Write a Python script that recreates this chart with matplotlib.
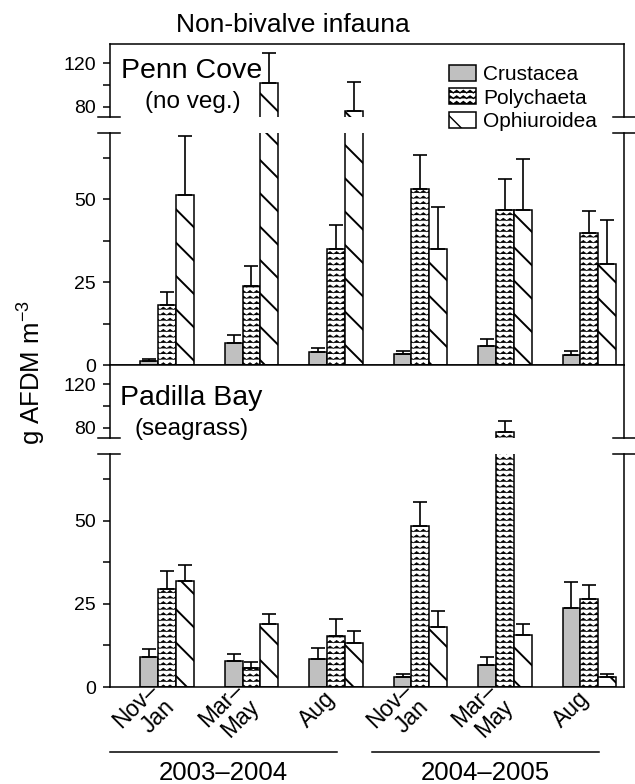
import numpy as np
import matplotlib
matplotlib.use('Agg')
import matplotlib.pyplot as plt
import matplotlib.hatch as mhatch
import matplotlib.transforms as mtransforms
from matplotlib.path import Path
from matplotlib.lines import Line2D

plt.rcParams['font.family'] = ['Liberation Sans', 'DejaVu Sans']
plt.rcParams['mathtext.fontset'] = 'custom'
plt.rcParams['mathtext.rm'] = 'Liberation Sans'
plt.rcParams['mathtext.it'] = 'Liberation Sans:italic'
plt.rcParams['mathtext.bf'] = 'Liberation Sans:bold'
plt.rcParams['hatch.color'] = 'black'

# ---------------- data ----------------
periods = ['Nov–\nJan', 'Mar–\nMay', 'Aug', 'Nov–\nJan', 'Mar–\nMay', 'Aug']
years = ['2003–2004', '2004–2005']
series = ['Crustacea', 'Polychaeta', 'Ophiuroidea']

penn_crust = [1.2, 6.7, 3.8, 3.2, 5.7, 2.9]
penn_crust_err = [0.5, 2.5, 1.4, 0.9, 2.2, 1.2]
penn_poly = [18.1, 23.8, 35.1, 53.0, 46.9, 39.9]
penn_poly_err = [3.8, 6.1, 7.2, 10.5, 9.1, 6.6]
penn_ophi = [51.4, 101.5, 76.6, 34.9, 46.9, 30.6]
penn_ophi_err = [17.6, 27.3, 26.4, 12.8, 15.4, 13.1]

pad_crust = [9.1, 7.7, 8.3, 2.9, 6.5, 23.6]
pad_crust_err = [2.3, 2.2, 3.3, 1.0, 2.5, 8.0]
pad_poly = [29.4, 5.7, 15.3, 48.5, 76.6, 26.3]
pad_poly_err = [5.6, 1.8, 5.2, 7.1, 9.8, 4.4]
pad_ophi = [31.7, 19.0, 13.3, 17.9, 15.5, 3.0]
pad_ophi_err = [4.9, 3.0, 3.5, 5.0, 3.5, 1.0]

panel_names = ['Penn Cove', 'Padilla Bay']
panel_subs = ['(no veg.)', '(seagrass)']


# ---------------- zigzag hatch (replaces 'O' pattern) ----------------
class ZigZagHatch(mhatch.HatchPatternBase):
    def __init__(self, hatch, density):
        self.num_lines = int(hatch.count('O') * density)
        self.n_seg = 30
        self.num_vertices = self.num_lines * (self.n_seg + 1)

    def set_vertices_and_codes(self, vertices, codes):
        if self.num_lines == 0:
            return
        steps, stepsize = np.linspace(0.0, 1.0, self.num_lines, False, retstep=True)
        steps += stepsize / 2.0
        k = self.n_seg + 1
        xs = np.linspace(0.0, 1.0, k)
        amp = stepsize * 0.22
        off = np.where(np.arange(k) % 2 == 0, -amp, amp)
        for i, s in enumerate(steps):
            vertices[i * k:(i + 1) * k, 0] = xs
            vertices[i * k:(i + 1) * k, 1] = s + off
            codes[i * k] = Path.MOVETO
            codes[i * k + 1:(i + 1) * k] = Path.LINETO


mhatch._hatch_types[mhatch._hatch_types.index(mhatch.LargeCircles)] = ZigZagHatch

# ---------------- figure layout ----------------
W_PX, H_PX = 635, 784
fig = plt.figure(figsize=(W_PX / 100, H_PX / 100), dpi=100)


def fy(px):
    return 1 - px / H_PX


L = 110 / W_PX
W = 514 / W_PX
ax1 = fig.add_axes([L, fy(117), W, 73 / H_PX])
ax2 = fig.add_axes([L, fy(365), W, 232 / H_PX])
ax3 = fig.add_axes([L, fy(438), W, 73 / H_PX])
ax4 = fig.add_axes([L, fy(687), W, 233 / H_PX])

x = np.arange(len(periods))
bw = 0.212
XLIM = (-0.675, 5.41)
UP_LIM = (70.9, 137.3)
LO_LIM = (0, 70)
LW = 1.1

styles = [
    dict(color='#c0c0c0', hatch=None, hlw=1.0, hc='black'),
    dict(color='white', hatch='OOO', hlw=0.5, hc='#3a3a3a'),
    dict(color='white', hatch='\\', hlw=1.4, hc='black'),
]

panels = [
    (ax1, ax2, [(penn_crust, penn_crust_err), (penn_poly, penn_poly_err), (penn_ophi, penn_ophi_err)]),
    (ax3, ax4, [(pad_crust, pad_crust_err), (pad_poly, pad_poly_err), (pad_ophi, pad_ophi_err)]),
]

legend_handles = []
for pi, (axu, axl, data) in enumerate(panels):
    for ax in (axu, axl):
        for si, ((vals, errs), st) in enumerate(zip(data, styles)):
            with plt.rc_context({'hatch.linewidth': st['hlw'], 'hatch.color': st['hc']}):
                bars = ax.bar(x + (si - 1) * bw, vals, bw, color=st['color'],
                              edgecolor='black', linewidth=LW, hatch=st['hatch'],
                              zorder=2, label=series[si])
            for b in bars:
                if hasattr(b, 'set_hatch_linewidth'):
                    b.set_hatch_linewidth(st['hlw'])
            ax.errorbar(x + (si - 1) * bw, vals, yerr=[np.zeros(len(vals)), errs],
                        fmt='none', ecolor='black', elinewidth=1.2, capsize=5,
                        capthick=1.2, zorder=3)
            if pi == 0 and ax is axl:
                legend_handles.append(bars)
        ax.set_xlim(*XLIM)
        ax.tick_params(axis='x', length=0, labelbottom=False)
        ax.tick_params(axis='y', which='both', direction='out', length=5,
                       width=1.1, labelsize=14, pad=5, right=False)
        for sp in ax.spines.values():
            sp.set_linewidth(1.1)
    axu.set_ylim(*UP_LIM)
    axu.set_yticks([80, 120])
    axu.set_yticks([100], minor=True)
    axu.spines['bottom'].set_visible(False)
    axl.set_ylim(*LO_LIM)
    axl.set_yticks([0, 25, 50])
    axl.set_yticks([12.5, 37.5, 62.5], minor=True)
    axl.spines['top'].set_visible(False)
    # break marks
    for ax, yy in ((axu, 0), (axl, 1)):
        for x0, x1 in ((-0.023, 0.019), (0.979, 1.021)):
            ax.plot([x0, x1], [yy, yy], transform=ax.transAxes, clip_on=False,
                    color='black', lw=1.1)

# panel labels
fig.text(192 / W_PX, fy(78), panel_names[0], fontsize=20.5, ha='center', va='baseline')
fig.text(193 / W_PX, fy(108), panel_subs[0], fontsize=17.5, ha='center', va='baseline')
fig.text(191 / W_PX, fy(405), panel_names[1], fontsize=20.5, ha='center', va='baseline')
fig.text(191.5 / W_PX, fy(435), panel_subs[1], fontsize=17.5, ha='center', va='baseline')

# title and y label
fig.text(292.5 / W_PX, fy(32), 'Non-bivalve infauna', fontsize=19, ha='center', va='baseline')
fig.text(32 / W_PX, fy(372), 'g AFDM m$^{-3}$', fontsize=18.5, rotation=90,
         ha='center', va='center')

# legend
fig.legend(legend_handles, series, loc='upper left',
           bbox_to_anchor=(449 / W_PX, fy(65)), frameon=False, fontsize=15,
           handlelength=1.3, handleheight=0.8, handletextpad=0.35,
           labelspacing=0.2, borderpad=0, borderaxespad=0)

# x tick labels (rotated)
blend = mtransforms.blended_transform_factory(ax4.transData, ax4.transAxes)
offs = mtransforms.ScaledTranslation(-4 / 100, -8 / 100, fig.dpi_scale_trans)
for xi, lab in zip(x, periods):
    ax4.text(xi, 0, lab, transform=blend + offs, rotation=45, rotation_mode='anchor',
             ha='right', va='center', multialignment='right', fontsize=16.5,
             linespacing=1.05)

# year lines and labels
yblend = mtransforms.blended_transform_factory(ax4.transData, fig.transFigure)
year_spans = [(-0.675, 2.01), (2.43, 5.11)]
for (a, b), yr in zip(year_spans, years):
    fig.add_artist(Line2D([a, b], [fy(752), fy(752)], transform=yblend,
                          color='black', lw=1.1))
    fig.text((a + b) / 2, fy(780), yr, transform=yblend, fontsize=18.5,
             ha='center', va='baseline')

fig.savefig('out.png', dpi=100)
